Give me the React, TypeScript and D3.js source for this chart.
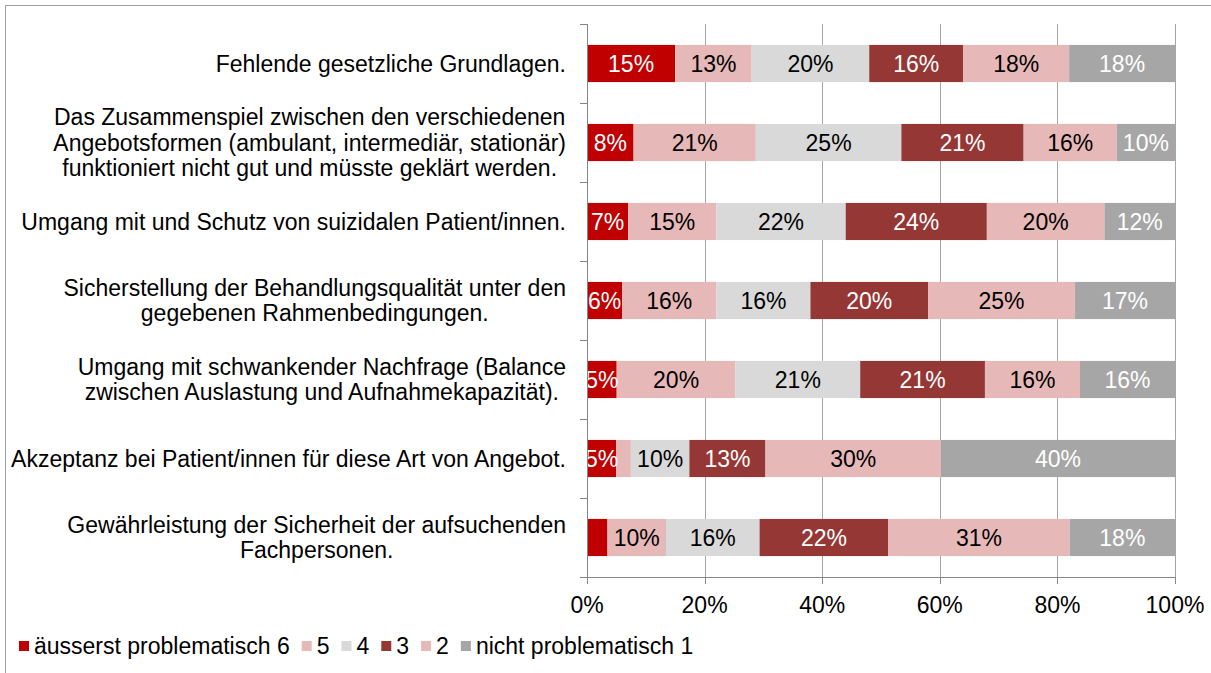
import { useEffect, useRef } from "react";
import * as d3 from "d3";

// Kategorien (von oben nach unten), Zeilenumbrüche wie im Original
const categories = [
  "Fehlende gesetzliche Grundlagen.",
  "Das Zusammenspiel zwischen den verschiedenen\nAngebotsformen (ambulant, intermediär, stationär)\nfunktioniert nicht gut und müsste geklärt werden.",
  "Umgang mit und Schutz von suizidalen Patient/innen.",
  "Sicherstellung der Behandlungsqualität unter den\ngegebenen Rahmenbedingungen.",
  "Umgang mit schwankender Nachfrage (Balance\nzwischen Auslastung und Aufnahmekapazität).",
  "Akzeptanz bei Patient/innen für diese Art von Angebot.",
  "Gewährleistung der Sicherheit der aufsuchenden\nFachpersonen.",
];

const seriesNames = ["äusserst problematisch 6", "5", "4", "3", "2", "nicht problematisch 1"];

// Werte in % je Serie (pro Kategorie)
const s6 = [15, 8, 7, 6, 5, 5, 3.5];
const s5 = [13, 21, 15, 16, 20, 2.5, 10];
const s4 = [20, 25, 22, 16, 21, 10, 16];
const s3 = [16, 21, 24, 20, 21, 13, 22];
const s2 = [18, 16, 20, 25, 16, 30, 31];
const s1 = [18, 10, 12, 17, 16, 40, 18];

const xTicks = [0, 0.2, 0.4, 0.6, 0.8, 1];

const colors = ["#C00000", "#E6B9B8", "#D9D9D9", "#953735", "#E6B9B8", "#A6A6A6"];
const labelColors = ["#ffffff", "#000000", "#000000", "#ffffff", "#000000", "#ffffff"];

const W = 1211;
const H = 673;
const margin = { top: 24, right: 36, bottom: 96, left: 587 };
const FONT = "'Liberation Sans', Arial, sans-serif";
const FS = 23;

export default function App() {
  const svgRef = useRef<SVGSVGElement>(null);

  useEffect(() => {
    const svg = d3.select(svgRef.current);
    svg.selectAll("*").remove();

    const allSeries = [s6, s5, s4, s3, s2, s1];
    const rows = categories.map((c, i) => {
      const r: any = { cat: c };
      seriesNames.forEach((s, j) => (r[s] = allSeries[j][i]));
      return r;
    });

    const stacked = d3.stack<any>().keys(seriesNames).offset(d3.stackOffsetExpand)(rows);

    const x = d3.scaleLinear().domain([0, 1]).range([margin.left, W - margin.right]);
    const y = d3
      .scaleBand()
      .domain(categories)
      .range([margin.top, H - margin.bottom])
      .paddingInner(0.53)
      .paddingOuter(0.265);

    // äusserer Rahmen
    svg.append("rect")
      .attr("x", 5.5).attr("y", 5.5)
      .attr("width", W + 10).attr("height", H + 10)
      .attr("fill", "none").attr("stroke", "#A0A0A0");

    // Gitternetz
    svg.append("g")
      .selectAll("line")
      .data(xTicks.slice(1))
      .join("line")
      .attr("x1", (d) => Math.round(x(d)) + 0.5)
      .attr("x2", (d) => Math.round(x(d)) + 0.5)
      .attr("y1", margin.top)
      .attr("y2", H - margin.bottom)
      .attr("stroke", "#A6A6A6");

    // Balken
    const layer = svg.append("g")
      .selectAll("g")
      .data(stacked)
      .join("g")
      .attr("fill", (_, i) => colors[i]);

    layer.selectAll("rect")
      .data((d) => d)
      .join("rect")
      .attr("x", (d) => x(d[0]))
      .attr("width", (d) => x(d[1]) - x(d[0]))
      .attr("y", (d) => y(d.data.cat)!)
      .attr("height", y.bandwidth());

    // Datenbeschriftungen (sehr kleine Segmente ohne Beschriftung)
    stacked.forEach((ser, j) => {
      svg.append("g")
        .selectAll("text")
        .data(ser.filter((d) => d.data[ser.key] >= 4))
        .join("text")
        .attr("x", (d) => (x(d[0]) + x(d[1])) / 2)
        .attr("y", (d) => y(d.data.cat)! + y.bandwidth() / 2)
        .attr("text-anchor", "middle")
        .attr("dominant-baseline", "central")
        .attr("font-family", FONT)
        .attr("font-size", FS)
        .attr("fill", labelColors[j])
        .text((d) => d3.format(".0f")(d.data[ser.key]) + "%");
    });

    // Achsen
    const axisColor = "#868686";
    const yA = svg.append("g");
    yA.append("line")
      .attr("x1", margin.left + 0.5).attr("x2", margin.left + 0.5)
      .attr("y1", margin.top).attr("y2", H - margin.bottom)
      .attr("stroke", axisColor);
    yA.selectAll("line.tick")
      .data(d3.range(categories.length + 1))
      .join("line")
      .attr("class", "tick")
      .attr("x1", margin.left - 7).attr("x2", margin.left)
      .attr("y1", (i) => Math.round(margin.top + i * y.step()) + 0.5)
      .attr("y2", (i) => Math.round(margin.top + i * y.step()) + 0.5)
      .attr("stroke", axisColor);

    const xA = svg.append("g");
    xA.append("line")
      .attr("x1", margin.left).attr("x2", W - margin.right)
      .attr("y1", H - margin.bottom + 0.5).attr("y2", H - margin.bottom + 0.5)
      .attr("stroke", axisColor);
    xA.selectAll("line.tick")
      .data(xTicks)
      .join("line")
      .attr("class", "tick")
      .attr("x1", (d) => Math.round(x(d)) + 0.5).attr("x2", (d) => Math.round(x(d)) + 0.5)
      .attr("y1", H - margin.bottom).attr("y2", H - margin.bottom + 7)
      .attr("stroke", axisColor);
    xA.selectAll("text")
      .data(xTicks)
      .join("text")
      .attr("x", (d) => x(d))
      .attr("y", H - margin.bottom + 28)
      .attr("dominant-baseline", "central")
      .attr("text-anchor", "middle")
      .attr("font-family", FONT)
      .attr("font-size", FS)
      .text((d) => d3.format(".0%")(d));

    // Kategorienbeschriftung (Block rechtsbündig, Zeilen zentriert)
    const lineH = 25.5;
    const labelRight = 566;
    categories.forEach((c) => {
      const lines = c.split("\n");
      const cy = y(c)! + y.bandwidth() / 2;
      const t = svg.append("text")
        .attr("font-family", FONT)
        .attr("font-size", FS)
        .attr("text-anchor", "middle")
        .attr("fill", "#000");
      const spans = lines.map((l, k) =>
        t.append("tspan")
          .attr("y", cy + (k - (lines.length - 1) / 2) * lineH)
          .attr("dominant-baseline", "central")
          .text(l)
      );
      const maxW = d3.max(spans, (s) => (s.node() as SVGTSpanElement).getComputedTextLength()) || 0;
      spans.forEach((s) => s.attr("x", labelRight - maxW / 2));
    });

    // Legende
    const lg = svg.append("g");
    let lx = 19;
    const ly = 646;
    seriesNames.forEach((s, i) => {
      lg.append("rect")
        .attr("x", lx).attr("y", ly - 5)
        .attr("width", 10).attr("height", 10)
        .attr("fill", colors[i]);
      const t = lg.append("text")
        .attr("x", lx + 15).attr("y", ly)
        .attr("dominant-baseline", "central")
        .attr("font-family", FONT)
        .attr("font-size", FS)
        .text(s);
      lx += 15 + (t.node() as SVGTextElement).getComputedTextLength() + 12;
    });
  }, []);

  return (
    <svg
      ref={svgRef}
      width={W}
      height={H}
      style={{ position: "absolute", left: 0, top: 0, background: "#fff" }}
    />
  );
}
